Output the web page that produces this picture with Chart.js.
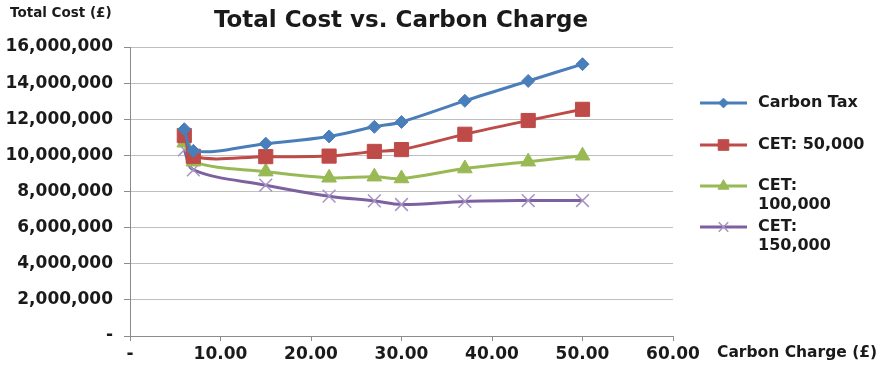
<!DOCTYPE html>
<html>
<head>
<meta charset="utf-8">
<script src="https://cdn.jsdelivr.net/npm/chart.js@4/dist/chart.umd.min.js"></script>
<style>
  html, body { margin: 0; padding: 0; background: #fff; }
  #wrap { width: 886px; height: 371px; position: relative; }
</style>
</head>
<body>
<div id="wrap"><canvas id="c"></canvas></div>
<script>
// Carbon charge (£) at which each scenario was evaluated
const carbonCharge = [6, 7, 15, 22, 27, 30, 37, 44, 50];

// Total cost (£) for each scenario
const carbonTax = [11450000, 10250000, 10650000, 11050000, 11580000, 11850000, 13020000, 14120000, 15050000];
const cet50k    = [11100000, 9950000, 9930000, 9960000, 10220000, 10320000, 11170000, 11930000, 12550000];
const cet100k   = [10700000, 9650000, 9100000, 8760000, 8820000, 8720000, 9270000, 9650000, 9980000];
const cet150k   = [10300000, 9200000, 8350000, 7740000, 7480000, 7280000, 7450000, 7500000, 7500000];

const seriesNames = ['Carbon Tax', 'CET: 50,000', 'CET: 100,000', 'CET: 150,000'];

const FONT = '"DejaVu Sans", sans-serif';

function pts(ys) { return carbonCharge.map((x, i) => ({ x: x, y: ys[i] })); }

function series(label, ys, color, pointColor, style, radius) {
  return {
    label: label,
    data: pts(ys),
    showLine: true,
    borderColor: color,
    backgroundColor: pointColor,
    pointBorderColor: pointColor,
    pointBackgroundColor: pointColor,
    borderWidth: 3,
    pointStyle: style,
    pointRadius: radius,
    pointBorderWidth: style === 'crossRot' ? 1.5 : 1,
    tension: 0.35
  };
}

// Title, axis titles and a wrapping legend drawn on the canvas
const decorations = {
  id: 'decorations',
  afterDraw(chart) {
    const ctx = chart.ctx;
    ctx.save();
    ctx.fillStyle = '#1a1a1a';
    ctx.textBaseline = 'middle';

    ctx.font = 'bold 23px ' + FONT;
    ctx.textAlign = 'center';
    ctx.fillText('Total Cost vs. Carbon Charge', 401, 21);

    ctx.textAlign = 'left';
    ctx.font = 'bold 13.5px ' + FONT;
    ctx.fillText('Total Cost (£)', 10, 13);

    ctx.font = 'bold 15.5px ' + FONT;
    ctx.fillText('Carbon Charge (£)', 717, 353);

    // legend
    const rowY = [103, 145, 186, 227];
    const lineX0 = 700, lineX1 = 747, textX = 758, maxW = 112;
    ctx.font = 'bold 16px ' + FONT;
    chart.data.datasets.forEach((ds, i) => {
      const y = rowY[i];
      ctx.strokeStyle = ds.borderColor;
      ctx.lineWidth = 3;
      ctx.beginPath();
      ctx.moveTo(lineX0, y);
      ctx.lineTo(lineX1, y);
      ctx.stroke();
      ctx.fillStyle = ds.pointBackgroundColor;
      ctx.strokeStyle = ds.pointBorderColor;
      ctx.lineWidth = ds.pointBorderWidth;
      Chart.helpers.drawPoint(ctx, {
        pointStyle: ds.pointStyle,
        radius: ds.pointRadius * 0.75,
        borderWidth: ds.pointBorderWidth,
        rotation: 0
      }, (lineX0 + lineX1) / 2, y);

      // wrap label words into lines
      const words = ds.label.split(' ');
      const lines = [];
      let cur = '';
      words.forEach(w => {
        const t = cur ? cur + ' ' + w : w;
        if (ctx.measureText(t).width > maxW && cur) { lines.push(cur); cur = w; }
        else cur = t;
      });
      lines.push(cur);
      ctx.fillStyle = '#1a1a1a';
      lines.forEach((ln, k) => ctx.fillText(ln, textX, y + k * 19));
    });
    ctx.restore();
  }
};

new Chart(document.getElementById('c'), {
  type: 'scatter',
  data: {
    datasets: [
      series(seriesNames[0], carbonTax, '#4A7EBB', '#4A7EBB', 'rectRot', 6.5),
      series(seriesNames[1], cet50k, '#BE4B48', '#BE4B48', 'rect', 10),
      series(seriesNames[2], cet100k, '#98B954', '#98B954', 'triangle', 8.5),
      series(seriesNames[3], cet150k, '#7D60A0', '#A693C4', 'crossRot', 9)
    ]
  },
  options: {
    responsive: true,
    maintainAspectRatio: false,
    animation: false,
    layout: { padding: { top: 47, right: 213, left: 0, bottom: 0 } },
    plugins: {
      legend: { display: false },
      title: { display: false },
      tooltip: { enabled: false }
    },
    scales: {
      x: {
        type: 'linear',
        min: 0,
        max: 60,
        ticks: {
          stepSize: 10,
          color: '#1a1a1a',
          font: { family: FONT, size: 17, weight: 'bold' },
          padding: 3,
          maxRotation: 0,
          callback: v => v === 0 ? '-' : v.toFixed(2)
        },
        grid: {
          drawOnChartArea: false,
          drawTicks: true,
          tickLength: 5,
          color: '#8c8c8c'
        },
        border: { color: '#8c8c8c', width: 1 },
        afterFit(scale) { scale.height = 35; }
      },
      y: {
        min: 0,
        max: 16000000,
        ticks: {
          stepSize: 2000000,
          color: '#1a1a1a',
          font: { family: FONT, size: 17, weight: 'bold' },
          padding: 11,
          callback: v => v === 0 ? '-' : v.toLocaleString('en-US')
        },
        grid: {
          color: '#BFBFBF',
          lineWidth: 1,
          tickLength: 6,
          tickColor: '#8c8c8c'
        },
        border: { color: '#8c8c8c', width: 1 },
        afterFit(scale) { scale.width = 130; }
      }
    }
  },
  plugins: [decorations]
});
</script>
</body>
</html>
